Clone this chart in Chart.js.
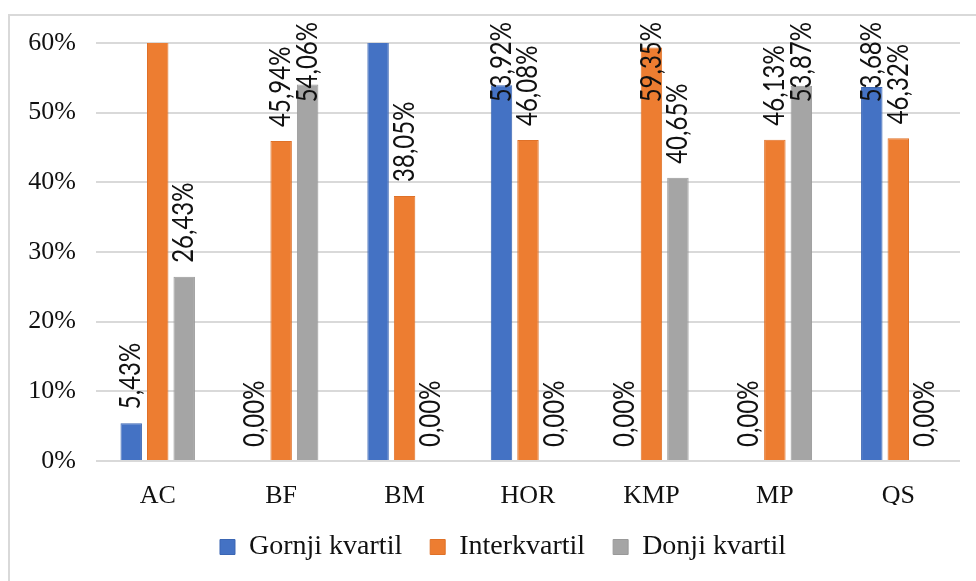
<!DOCTYPE html>
<html>
<head>
<meta charset="utf-8">
<script src="https://cdn.jsdelivr.net/npm/chart.js@4/dist/chart.umd.min.js"></script>
<style>
  html, body { margin: 0; padding: 0; background: #fff; overflow: hidden; }
  #okvir {
    position: absolute; left: 8px; top: 14px; width: 2000px; height: 2000px;
    border-left: 2px solid #d9d9d9; border-top: 2px solid #d9d9d9;
  }
  #wrap { position: absolute; left: 0; top: 0; width: 976px; height: 581px; }
</style>
</head>
<body>
<div id="okvir"></div>
<div id="wrap"><canvas id="grafikon"></canvas></div>
<script>
// Podaci
const kategorije = ['AC', 'BF', 'BM', 'HOR', 'KMP', 'MP', 'QS'];
const gornjiKvartil = [5.43, 0, 61.95, 53.92, 0, 0, 53.68];
const interkvartil = [68.14, 45.94, 38.05, 46.08, 59.35, 46.13, 46.32];
const donjiKvartil = [26.43, 54.06, 0, 0, 40.65, 53.87, 0];
const yTicks = [0, 10, 20, 30, 40, 50, 60];

// Oznake vrijednosti, okrenute okomito iznad stupca
const oznake = {
    id: 'oznake',
    afterDatasetsDraw(chart) {
        const ctx = chart.ctx;
        const y = chart.scales.y;
        ctx.save();
        ctx.font = '24px Lato';
        ctx.fillStyle = '#111';
        ctx.textAlign = 'left';
        ctx.textBaseline = 'middle';
        chart.data.datasets.forEach((ds, di) => {
            const meta = chart.getDatasetMeta(di);
            meta.data.forEach((bar, i) => {
                const v = ds.data[i];
                if (v > y.max) return; // izvan grafikona, ne prikazuje se
                const txt = v.toFixed(2).replace('.', ',') + '%';
                const w = ctx.measureText(txt).width;
                let dno = bar.y - 14;
                if (dno - w < 22) dno = 22 + w;
                ctx.save();
                ctx.translate(bar.x, dno);
                ctx.rotate(-Math.PI / 2);
                ctx.scale(1, 1.2);
                ctx.fillText(txt, 0, 0);
                ctx.restore();
            });
        });
        ctx.restore();
    }
};

// legenda je u originalu malo desno od sredine
const pomakLegende = {
    id: 'pomakLegende',
    afterLayout(chart) {
        chart.legend.left += 23;
        chart.legend.right += 23;
    }
};

new Chart(document.getElementById('grafikon'), {
    type: 'bar',
    data: {
        labels: kategorije,
        datasets: [
            { label: 'Gornji kvartil', data: gornjiKvartil, backgroundColor: '#4472C4', borderColor: '#3b66b3', borderWidth: 1, clip: 0 },
            { label: 'Interkvartil', data: interkvartil, backgroundColor: '#ED7D31', borderColor: '#df7128', borderWidth: 1, clip: 0 },
            { label: 'Donji kvartil', data: donjiKvartil, backgroundColor: '#A5A5A5', borderColor: '#999999', borderWidth: 1, clip: 0 }
        ]
    },
    options: {
        responsive: true,
        maintainAspectRatio: false,
        animation: false,
        categoryPercentage: 0.644,
        barPercentage: 0.81,
        layout: { padding: { left: 0, right: 16, top: 43, bottom: 10 } },
        scales: {
            x: {
                grid: { display: false, drawTicks: false },
                border: { display: false },
                ticks: { font: { family: 'Liberation Serif', size: 26 }, color: '#111', padding: 20 },
                afterFit(s) { s.height = 44; }
            },
            y: {
                min: 0,
                max: 60,
                afterBuildTicks(s) { s.ticks = yTicks.map(v => ({ value: v })); },
                grid: { color: '#d9d9d9', lineWidth: 2, drawTicks: false },
                border: { display: false },
                ticks: {
                    font: { family: 'Liberation Serif', size: 26 },
                    color: '#111',
                    padding: 20,
                    callback: v => v + '%'
                },
                afterFit(s) { s.width = 96; }
            }
        },
        plugins: {
            legend: {
                position: 'bottom',
                labels: {
                    boxWidth: 15,
                    boxHeight: 15,
                    padding: 28,
                    color: '#111',
                    font: { family: 'Liberation Serif', size: 28 }
                }
            },
            tooltip: { enabled: false }
        }
    },
    plugins: [oznake, pomakLegende]
});
</script>
</body>
</html>
